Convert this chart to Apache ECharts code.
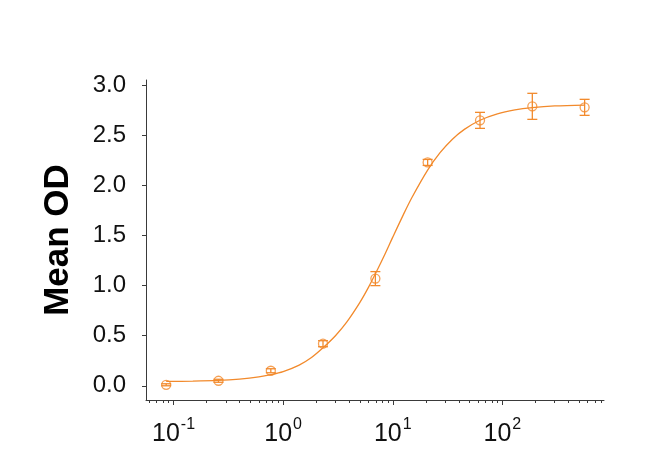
<!DOCTYPE html>
<html>
<head>
<meta charset="utf-8">
<script src="https://cdn.jsdelivr.net/npm/echarts@6/dist/echarts.min.js"></script>
<style>
html,body{margin:0;padding:0;background:#fff;}
#chart{width:666px;height:463px;}
</style>
</head>
<body>
<div id="chart"></div>
<script>
// ---- data ----
const concentrations = [0.0857, 0.257, 0.772, 2.31, 6.94, 20.8, 62.5, 187.5, 562.5];
const meanOD = [0.01, 0.05, 0.15, 0.42, 1.07, 2.23, 2.65, 2.79, 2.78];
const errorOD = [0.01, 0.015, 0.02, 0.03, 0.07, 0.03, 0.08, 0.13, 0.08];

// fitted curve
const curveX = [0.0857, 0.15, 0.257, 0.4, 0.6, 0.772, 1.0, 1.4, 1.8, 2.31, 3.0, 3.8, 5.0, 6.0, 7.0, 8.5, 10, 12.5, 15, 20.8, 27, 35, 45, 62.5, 90, 130, 187.5, 300, 562.5];
const curveY = [0.043, 0.046, 0.053, 0.067, 0.089, 0.111, 0.142, 0.207, 0.28, 0.38, 0.5, 0.635, 0.83, 0.982, 1.126, 1.316, 1.484, 1.709, 1.882, 2.153, 2.327, 2.462, 2.56, 2.651, 2.715, 2.754, 2.777, 2.794, 2.803];

const xMajorTicks = [0.1, 1, 10, 100];
const xMinorTicks = [0.06, 0.07, 0.08, 0.09, 0.2, 0.3, 0.4, 0.5, 0.6, 0.7, 0.8, 0.9,
  2, 3, 4, 5, 6, 7, 8, 9, 20, 30, 40, 50, 60, 70, 80, 90, 200, 300, 400, 500, 600, 700, 800];
const yTicks = [0, 0.5, 1.0, 1.5, 2.0, 2.5, 3.0];
const yAxisTitle = 'Mean OD';

const ORANGE = '#F28A2C';
const AXIS = '#3a3a3a';

const chart = echarts.init(document.getElementById('chart'), null, {renderer: 'canvas'});

const pointData = concentrations.map((c, i) => [c, meanOD[i]]);
const errData = concentrations.map((c, i) => [c, meanOD[i] - errorOD[i], meanOD[i] + errorOD[i]]);
const curveData = curveX.map((c, i) => [c, curveY[i]]);

const xMin = 0.0561, xMax = 845;

const option = {
  backgroundColor: '#fff',
  animation: false,
  grid: {left: 146, top: 80, right: 62, bottom: 63, containLabel: false},
  xAxis: [{
    type: 'log', logBase: 10, min: xMin, max: xMax, position: 'bottom',
    splitLine: {show: false},
    axisLine: {show: true, onZero: false, lineStyle: {color: AXIS, width: 1}},
    axisTick: {show: true, inside: false, length: 5, customValues: xMajorTicks, lineStyle: {color: AXIS, width: 1}},
    axisLabel: {
      show: true, margin: 17, customValues: xMajorTicks,
      formatter: function (v) {
        const e = Math.round(Math.log10(v));
        return '{b|10}{s|' + e + '}';
      },
      rich: {
        b: {fontFamily: 'Liberation Sans, Arial', fontSize: 25, color: '#111', lineHeight: 30, verticalAlign: 'bottom'},
        s: {fontFamily: 'Liberation Sans, Arial', fontSize: 16, color: '#111', lineHeight: 30, verticalAlign: 'top', padding: [0, 0, 0, 1]}
      }
    }
  }, {
    type: 'log', logBase: 10, min: xMin, max: xMax, position: 'bottom',
    splitLine: {show: false},
    axisLine: {show: false, onZero: false},
    axisTick: {show: true, inside: false, length: 3, customValues: xMinorTicks, lineStyle: {color: AXIS, width: 1}},
    axisLabel: {show: false}
  }],
  yAxis: [{
    type: 'value', min: -0.142, max: 3.053,
    name: yAxisTitle, nameLocation: 'middle', nameGap: 70, nameRotate: 90,
    nameTextStyle: {fontFamily: 'Liberation Sans, Arial', fontWeight: 'bold', fontSize: 35, color: '#000'},
    splitLine: {show: false},
    axisLine: {show: true, onZero: false, lineStyle: {color: AXIS, width: 1}},
    axisTick: {show: true, inside: false, length: 4, customValues: yTicks, lineStyle: {color: AXIS, width: 1}},
    axisLabel: {
      show: true, margin: 20, customValues: yTicks,
      fontFamily: 'Liberation Sans, Arial', fontSize: 24, color: '#111',
      formatter: v => v.toFixed(1)
    }
  }],
  series: [{
    type: 'line', name: 'fit', data: curveData, smooth: 0.3, showSymbol: false,
    lineStyle: {color: ORANGE, width: 1.3}, z: 2, silent: true
  }, {
    type: 'custom', name: 'err', data: errData, z: 3, silent: true,
    renderItem: function (params, api) {
      const x = api.value(0);
      const lo = api.coord([x, api.value(1)]);
      const hi = api.coord([x, api.value(2)]);
      const w = 5;
      const style = {stroke: ORANGE, lineWidth: 1.3, fill: null};
      return {
        type: 'group',
        children: [
          {type: 'line', shape: {x1: lo[0], y1: lo[1], x2: hi[0], y2: hi[1]}, style: style},
          {type: 'line', shape: {x1: lo[0] - w, y1: lo[1], x2: lo[0] + w, y2: lo[1]}, style: style},
          {type: 'line', shape: {x1: hi[0] - w, y1: hi[1], x2: hi[0] + w, y2: hi[1]}, style: style}
        ]
      };
    }
  }, {
    type: 'scatter', name: 'points', data: pointData, symbol: 'circle', symbolSize: 9,
    itemStyle: {color: 'rgba(255,255,255,0)', borderColor: ORANGE, borderWidth: 1.3}, z: 4, silent: true
  }]
};
chart.setOption(option);
</script>
</body>
</html>
